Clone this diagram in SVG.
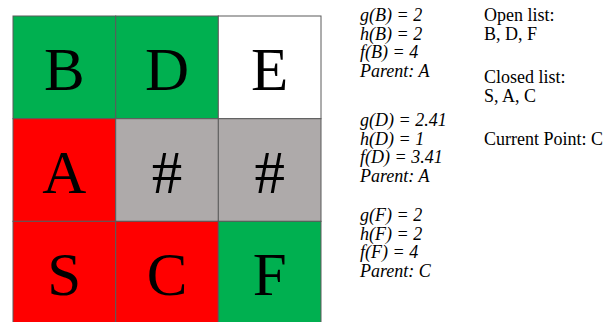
<svg xmlns="http://www.w3.org/2000/svg" width="611" height="322" viewBox="0 0 611 322">
<style>
.cell{stroke:#5a5a5a;stroke-width:1}
.g{fill:#00b050}.r{fill:#ff0000}.gr{fill:#aeaaaa}.w{fill:#ffffff}
.big{font-family:"Liberation Serif","Times New Roman",serif;font-size:61px;fill:#000;text-anchor:middle}
.it{font-family:"Liberation Serif","Times New Roman",serif;font-size:18px;font-style:italic;fill:#000}
.rm{font-family:"Liberation Serif","Times New Roman",serif;font-size:18px;fill:#000}
</style>
<rect width="611" height="322" fill="#ffffff"/>
<g id="cell-B"><rect class="cell g" x="13" y="16" width="102.7" height="102.7"/><text class="big" x="64.3" y="90">B</text></g>
<g id="cell-D"><rect class="cell g" x="115.7" y="16" width="102.7" height="102.7"/><text class="big" x="167" y="90">D</text></g>
<g id="cell-E"><rect class="cell w" x="218.3" y="16" width="102.7" height="102.7"/><text class="big" x="269.7" y="90">E</text></g>
<g id="cell-A"><rect class="cell r" x="13" y="118.7" width="102.7" height="102.7"/><text class="big" x="64.3" y="193">A</text></g>
<g id="cell-wall1"><rect class="cell gr" x="115.7" y="118.7" width="102.7" height="102.7"/><text class="big" x="167" y="193">#</text></g>
<g id="cell-wall2"><rect class="cell gr" x="218.3" y="118.7" width="102.7" height="102.7"/><text class="big" x="269.7" y="193">#</text></g>
<g id="cell-S"><rect class="cell r" x="13" y="221.3" width="102.7" height="102.7"/><text class="big" x="64.3" y="295">S</text></g>
<g id="cell-C"><rect class="cell r" x="115.7" y="221.3" width="102.7" height="102.7"/><text class="big" x="167" y="295">C</text></g>
<g id="cell-F"><rect class="cell g" x="218.3" y="221.3" width="102.7" height="102.7"/><text class="big" x="269.7" y="295">F</text></g>
<g id="info-B">
<text class="it" x="360" y="21">g(B) = 2</text>
<text class="it" x="360" y="39.5">h(B) = 2</text>
<text class="it" x="360" y="58">f(B) = 4</text>
<text class="it" x="360" y="76.5">Parent: A</text>
</g>
<g id="info-D">
<text class="it" x="360" y="126">g(D) = 2.41</text>
<text class="it" x="360" y="144.5">h(D) = 1</text>
<text class="it" x="360" y="163">f(D) = 3.41</text>
<text class="it" x="360" y="181.5">Parent: A</text>
</g>
<g id="info-F">
<text class="it" x="360" y="221">g(F) = 2</text>
<text class="it" x="360" y="239.5">h(F) = 2</text>
<text class="it" x="360" y="258">f(F) = 4</text>
<text class="it" x="360" y="276.5">Parent: C</text>
</g>
<g id="lists">
<text class="rm" x="484" y="21">Open list:</text>
<text class="rm" x="484" y="39.5">B, D, F</text>
<text class="rm" x="484" y="83">Closed list:</text>
<text class="rm" x="484" y="101.5">S, A, C</text>
<text class="rm" x="484" y="144.5">Current Point: C</text>
</g>
<g id="connectors"/>
</svg>
